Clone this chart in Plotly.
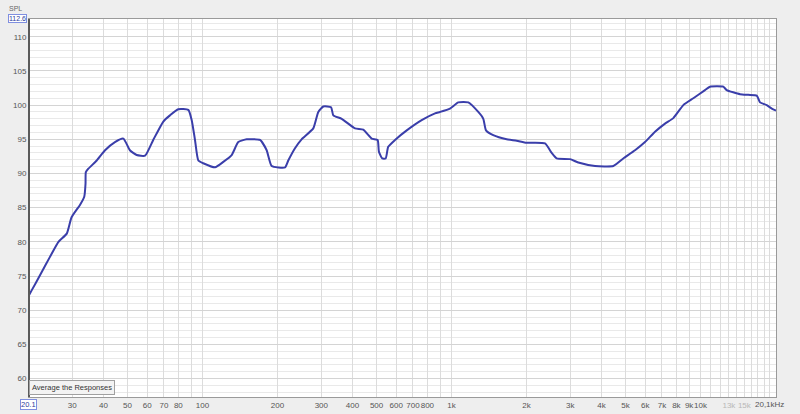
import plotly.graph_objects as go
import math

# ---- data ----
freq_hz = [20.1, 20.6, 22.25, 24.4, 26.4, 28.5, 29.8, 32.2, 33.5, 33.9, 34.0, 34.8, 37.6, 40.6,
           44.5, 48.1, 51.1, 54.4, 58.8, 63.4, 69.6, 74.0, 79.9, 87.7, 90.5, 93.3, 96.2, 100.7,
           112.3, 121.2, 131, 139.2, 150.5, 170.2, 181, 189.6, 214.5, 221, 235.2, 250, 278.6,
           291.8, 305.6, 328.3, 335.3, 362.3, 409.7, 442.2, 478, 505, 511, 527, 544, 557, 593,
           661, 759, 858.6, 899, 986, 1065, 1168, 1281, 1342, 1376, 1471, 1666, 1827, 2004,
           2374, 2526, 2645, 2991, 3230, 3771, 4466, 4896, 5457, 5986, 6565, 7202, 7777, 8531,
           9358, 10424, 10916, 12347, 12741, 14414, 15561, 16820, 17340, 18450, 19497, 20100]
spl_db = [72.2, 72.9, 75.1, 77.8, 80.0, 81.2, 83.6, 85.4, 86.6, 88.5, 90.2, 90.7, 91.9, 93.4,
          94.6, 95.1, 93.4, 92.7, 92.6, 94.9, 97.6, 98.5, 99.4, 99.3, 97.8, 94.9, 91.9, 91.5,
          90.9, 91.7, 92.7, 94.6, 95.0, 94.9, 93.4, 91.1, 90.9, 91.9, 93.7, 95.0, 96.6,
          99.0, 99.8, 99.7, 98.5, 98.0, 96.6, 96.4, 95.1, 94.9, 93.2, 92.2, 92.2, 93.9, 94.9,
          96.3, 97.8, 98.8, 99.0, 99.5, 100.4, 100.4, 99.0, 98.0, 96.3, 95.6, 95.0, 94.8, 94.5,
          94.4, 93.0, 92.2, 92.1, 91.6, 91.1, 91.1, 92.2, 93.4, 94.6, 96.1, 97.3, 98.1, 100.0,
          101.0, 102.2, 102.7, 102.7, 102.2, 101.6, 101.5, 101.4, 100.4, 100.0, 99.4, 99.2]

x_grid = ([v for v in range(30, 100, 10)] + [v for v in range(100, 1000, 100)] +
          [v for v in range(1000, 10000, 1000)] + [v for v in range(10000, 21000, 1000)])
x_labels = {30: "30", 40: "40", 50: "50", 60: "60", 70: "70", 80: "80", 100: "100",
            200: "200", 300: "300", 400: "400", 500: "500", 600: "600", 700: "700", 800: "800",
            1000: "1k", 2000: "2k", 3000: "3k", 4000: "4k", 5000: "5k", 6000: "6k", 7000: "7k",
            8000: "8k", 9000: "9k", 10000: "10k",
            13000: "<span style='color:#b8b8b8'>13k</span>",
            15000: "<span style='color:#b8b8b8'>15k</span>"}
x_ticktext = [x_labels.get(v, "") for v in x_grid]
y_ticks = [60, 65, 70, 75, 80, 85, 90, 95, 100, 105, 110]
x_range_hz = [20.1, 20100]
y_range_db = [57.3, 112.6]

fig = go.Figure()
fig.add_trace(go.Scatter(x=freq_hz, y=spl_db, mode="lines",
                         line=dict(color="rgb(58,62,170)", width=2, shape="spline",
                                   smoothing=0.5),
                         hoverinfo="skip", showlegend=False))

tick_font = dict(family="Liberation Sans, Arial, sans-serif", size=8, color="#555555")

fig.update_layout(
    width=800, height=414,
    margin=dict(l=29, r=24, t=19, b=17, autoexpand=False),
    paper_bgcolor="#eeeeee",
    plot_bgcolor="#ffffff",
    showlegend=False,
    xaxis=dict(type="log", range=[math.log10(x_range_hz[0]), math.log10(x_range_hz[1])],
               tickmode="array", tickvals=x_grid, ticktext=x_ticktext, tickangle=0,
               showgrid=True, gridcolor="#dcdcdc", gridwidth=1, automargin=False,
               showline=True, linecolor="#9a9a9a", linewidth=1, mirror=True,
               ticks="", tickfont=tick_font, zeroline=False, fixedrange=True),
    yaxis=dict(range=y_range_db, tickmode="array", tickvals=y_ticks,
               ticktext=[str(v) for v in y_ticks], automargin=False,
               showgrid=True, gridcolor="#d4d4d4", gridwidth=1,
               minor=dict(dtick=1, tick0=0, showgrid=True, gridcolor="#e9e9e9", gridwidth=1),
               showline=True, linecolor="#9a9a9a", linewidth=1, mirror=True,
               ticks="", tickfont=tick_font, zeroline=False, fixedrange=True),
    shapes=[
        dict(type="line", xref="x", yref="paper", x0=math.log10(100), x1=math.log10(100),
             y0=0, y1=1, line=dict(color="#a8a8a8", width=1), layer="below"),
        dict(type="line", xref="x", yref="paper", x0=math.log10(1000), x1=math.log10(1000),
             y0=0, y1=1, line=dict(color="#a8a8a8", width=1), layer="below"),
        dict(type="line", xref="paper", yref="paper", x0=0, x1=0, y0=0, y1=1,
             line=dict(color="#5a5a5a", width=2)),
    ],
    annotations=[
        dict(text="SPL", xref="paper", yref="paper", x=(16 - 29) / 747, y=(397 - 9) / 378,
             showarrow=False, font=dict(family="Liberation Sans", size=7, color="#666666"),
             xanchor="center", yanchor="middle"),
        dict(text="112.6", xref="paper", yref="paper", x=(17 - 29) / 747, y=(397 - 18) / 378,
             showarrow=False, font=dict(family="Liberation Sans", size=7, color="#2c3c9c"),
             xanchor="center", yanchor="middle", bgcolor="#ffffff", bordercolor="#7f8fe0",
             borderwidth=1, borderpad=0),
        dict(text="20.1", xref="paper", yref="paper", x=(28 - 29) / 747, y=(397 - 404) / 378,
             showarrow=False, font=dict(family="Liberation Sans", size=7.5, color="#2c3c9c"),
             xanchor="center", yanchor="middle", bgcolor="#ffffff", bordercolor="#7f8fe0",
             borderwidth=1, borderpad=0),
        dict(text="20,1kHz", xref="paper", yref="paper", x=(786 - 29) / 747, y=(397 - 404) / 378,
             showarrow=False, font=tick_font, xanchor="right", yanchor="middle"),
        dict(text="Average the Responses", xref="paper", yref="paper",
             x=(71.5 - 29) / 747, y=(397 - 387.5) / 378,
             showarrow=False, font=dict(family="Liberation Sans", size=7.5, color="#333333"),
             xanchor="center", yanchor="middle", bgcolor="#f3f3f3", bordercolor="#a0a0a0",
             borderwidth=1, borderpad=2),
    ],
)

fig.write_html("out.html", config={"displayModeBar": False},
               post_script="document.body.style.margin='0';document.body.style.overflow='hidden';")
